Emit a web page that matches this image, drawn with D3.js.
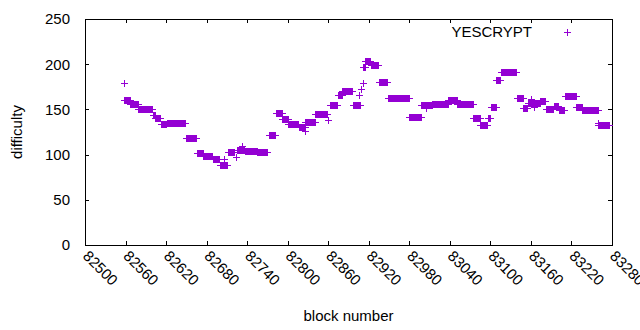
<!DOCTYPE html>
<html>
<head>
<meta charset="utf-8">
<script src="https://cdn.jsdelivr.net/npm/d3@7"></script>
<style>
  body { margin: 0; background: #fff; }
  text { font-family: "Liberation Sans", Arial, sans-serif; font-size: 15px; fill: #000; }
</style>
</head>
<body>
<div id="chart"></div>
<script>
'use strict';

// ticks
const xTicks = [82500, 82560, 82620, 82680, 82740, 82800, 82860, 82920, 82980, 83040, 83100, 83160, 83220, 83280];
const yTicks = [0, 50, 100, 150, 200, 250];

// difficulty stays flat over runs of blocks: first block, last block, value
const runStart = [82558, 82567, 82579, 82600, 82604, 82612, 82621, 82649, 82666, 82675, 82689, 82700, 82711, 82725,
  82737, 82755, 82772, 82782, 82792, 82801, 82816, 82826, 82841, 82863, 82874, 82881, 82896, 82911, 82915, 82923,
  82935, 82948, 82980, 82998, 83014, 83038, 83051, 83075, 83085, 83096, 83101, 83109, 83115, 83139, 83149, 83155,
  83174, 83182, 83194, 83201, 83210, 83227, 83236, 83260];
const runEnd = [82566, 82578, 82599, 82603, 82611, 82620, 82648, 82665, 82674, 82688, 82699, 82710, 82720, 82736,
  82754, 82770, 82781, 82791, 82800, 82815, 82825, 82840, 82858, 82873, 82880, 82895, 82907, 82914, 82922, 82934,
  82947, 82979, 82997, 83013, 83037, 83050, 83074, 83084, 83095, 83100, 83108, 83114, 83138, 83148, 83154, 83173,
  83181, 83193, 83200, 83209, 83226, 83235, 83259, 83276];
const runValue = [160, 156, 150, 144, 140, 134, 135, 118, 102, 98, 95, 89, 103, 105,
  104, 103, 122, 146, 139, 134, 131, 136, 145, 155, 166, 170, 155, 197, 203, 199,
  180, 163, 142, 155, 156, 160, 156, 140, 133, 141, 153, 182, 191, 163, 151, 157,
  159, 150, 154, 149, 165, 153, 149, 133];

// single blocks off the runs
const extraBlock = [82558, 82706, 82723, 82733, 82826, 82859, 82906, 82909, 82911, 83005, 83160, 83165, 83259];
const extraValue = [179, 95, 97, 110, 126, 138, 166, 173, 179, 152, 161, 153, 135];

function buildPoints() {
  const points = [];
  runStart.forEach((start, i) => {
    for (let b = start; b <= runEnd[i]; b++) points.push({ block: b, difficulty: runValue[i] });
  });
  extraBlock.forEach((b, i) => points.push({ block: b, difficulty: extraValue[i] }));
  return points;
}

function drawChart(elementID, data, width, height) {
  const margin = { top: 19, right: 28, bottom: 85, left: 85 };
  const svg = d3.select('#' + elementID)
    .append('svg')
    .attr('width', width)
    .attr('height', height);

  const x = d3.scaleLinear()
    .domain([82500, 83280])
    .range([margin.left, width - margin.right]);
  const y = d3.scaleLinear()
    .domain([0, 250])
    .range([height - margin.bottom, margin.top]);

  const tick = 4;
  const color = '#9400d3';
  const cross = (cx, cy) => `M${cx - 3.5},${cy}h7M${cx},${cy - 3.5}v7`;

  // axes, gnuplot style: ticks inside and mirrored
  svg.append('g')
    .attr('transform', `translate(0,${y(0)})`)
    .call(d3.axisBottom(x).tickValues(xTicks).tickSize(-tick).tickFormat(''))
    .call(g => g.select('.domain').remove());
  svg.append('g')
    .attr('transform', `translate(0,${y(250)})`)
    .call(d3.axisTop(x).tickValues(xTicks).tickSize(-tick).tickFormat(''))
    .call(g => g.select('.domain').remove());
  svg.append('g')
    .attr('transform', `translate(${x(82500)},0)`)
    .call(d3.axisLeft(y).tickValues(yTicks).tickSize(-tick).tickFormat(''))
    .call(g => g.select('.domain').remove());
  svg.append('g')
    .attr('transform', `translate(${x(83280)},0)`)
    .call(d3.axisRight(y).tickValues(yTicks).tickSize(-tick).tickFormat(''))
    .call(g => g.select('.domain').remove());
  svg.selectAll('.tick line').attr('stroke', '#000').attr('shape-rendering', 'crispEdges');

  svg.append('rect')
    .attr('x', x(82500))
    .attr('y', y(250))
    .attr('width', x(83280) - x(82500))
    .attr('height', y(0) - y(250))
    .attr('fill', 'none')
    .attr('stroke', '#000')
    .attr('shape-rendering', 'crispEdges');

  svg.selectAll('.ylabel')
    .data(yTicks)
    .enter()
    .append('text')
    .attr('class', 'ylabel')
    .attr('x', x(82500) - 15)
    .attr('y', d => y(d))
    .attr('dy', '0.36em')
    .attr('text-anchor', 'end')
    .text(d => d);

  svg.selectAll('.xlabel')
    .data(xTicks)
    .enter()
    .append('text')
    .attr('class', 'xlabel')
    .attr('transform', d => `translate(${x(d) - 3},${y(0) + 12}) rotate(45)`)
    .attr('text-anchor', 'start')
    .text(d => d);

  svg.append('text')
    .attr('transform', `translate(22,${(y(0) + y(250)) / 2}) rotate(-90)`)
    .attr('text-anchor', 'middle')
    .text('difficulty');

  svg.append('text')
    .attr('x', (x(82500) + x(83280)) / 2)
    .attr('y', height - 9)
    .attr('text-anchor', 'middle')
    .text('block number');

  // points
  svg.append('g')
    .selectAll('path')
    .data(data)
    .enter()
    .append('path')
    .attr('d', d => cross(Math.round(x(d.block)) + 0.5, Math.round(y(d.difficulty)) + 0.5))
    .attr('stroke', color)
    .attr('stroke-width', 1)
    .attr('fill', 'none');

  // legend
  svg.append('text')
    .attr('x', 532)
    .attr('y', 37)
    .attr('text-anchor', 'end')
    .text('YESCRYPT');
  svg.append('path')
    .attr('d', cross(567.5, 32.5))
    .attr('stroke', color)
    .attr('fill', 'none');
}

drawChart('chart', buildPoints(), 640, 330);
</script>
</body>
</html>
